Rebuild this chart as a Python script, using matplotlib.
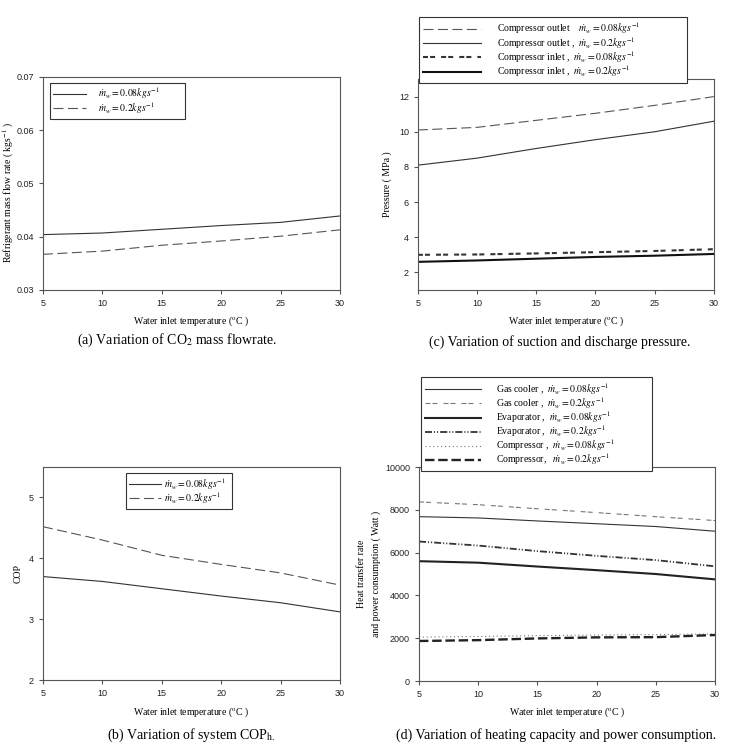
import matplotlib
matplotlib.use('Agg')
import matplotlib.pyplot as plt

plt.rcParams['mathtext.fontset'] = 'stix'
plt.rcParams['font.family'] = 'Liberation Serif'

# water inlet temperature (C)
temp = [5, 10, 15, 20, 25, 30]

# (a) refrigerant mass flow rate (kg/s)
flow_008 = [0.0404, 0.0407, 0.0414, 0.0421, 0.0427, 0.0439]
flow_02 = [0.0367, 0.0373, 0.0384, 0.0392, 0.0401, 0.0413]

# (c) pressure (MPa)
p_out_008 = [10.1, 10.25, 10.65, 11.05, 11.5, 12.0]
p_out_02 = [8.1, 8.5, 9.05, 9.55, 10.0, 10.6]
p_in_008 = [3.0, 3.02, 3.08, 3.15, 3.22, 3.32]
p_in_02 = [2.6, 2.68, 2.78, 2.88, 2.95, 3.05]

# (b) COP
cop_008 = [3.7, 3.62, 3.5, 3.38, 3.27, 3.12]
cop_02 = [4.52, 4.3, 4.05, 3.9, 3.76, 3.56]

# (d) heat transfer rate / power (W)
gc_008 = [7680, 7620, 7480, 7350, 7220, 7000]
gc_02 = [8370, 8240, 8050, 7870, 7680, 7500]
ev_008 = [5600, 5530, 5350, 5180, 5000, 4750]
ev_02 = [6520, 6330, 6070, 5850, 5650, 5360]
comp_008 = [2050, 2080, 2120, 2150, 2170, 2200]
comp_02 = [1870, 1910, 1990, 2040, 2050, 2150]

m008 = r'$\dot{m}_w = 0.08kgs^{-1}$'
m02 = r'$\dot{m}_w = 0.2kgs^{-1}$'
xlab = r'Water inlet temperature ($^{\rm o}$C )'

fig = plt.figure(figsize=(7.37, 7.54), dpi=100)

def style(ax, ylim, yticks):
    ax.set_xlim(5, 30)
    ax.set_xticks(temp)
    ax.set_ylim(*ylim)
    ax.set_yticks(yticks)
    for s in ax.spines.values():
        s.set_color('#555555')
        s.set_linewidth(0.8)
    ax.tick_params(colors='#555555', labelcolor='#222222', labelsize=6.5, length=3, width=0.8)
    for lab in ax.get_xticklabels() + ax.get_yticklabels():
        lab.set_family('Liberation Sans')
    ax.set_xlabel(xlab, fontsize=7, labelpad=5)

def legend(ax, x, top, w, **kw):
    lg = ax.legend(loc='upper left', bbox_to_anchor=(x, top, w, 0), mode='expand',
                   borderaxespad=0, fancybox=False, edgecolor='#333333', fontsize=7,
                   framealpha=1, labelspacing=-0.15, **kw)
    lg.get_frame().set_linewidth(0.8)
    return lg

# (a)
ax = fig.add_axes([0.0583, 0.6154, 0.403, 0.2825])
ax.plot(temp, flow_008, color='#333333', lw=0.8, label=m008)
ax.plot(temp, flow_02, color='#555555', lw=0.8, dashes=(9, 4), label=m02)
style(ax, (0.03, 0.07), [0.03, 0.04, 0.05, 0.06, 0.07])
ax.set_yticklabels(['0.03', '0.04', '0.05', '0.06', '0.07'])
ax.set_ylabel(r'Refrigerant mass flow rate ( kgs$^{-1}$ )', fontsize=7)
ax.yaxis.set_label_coords(-0.09, 0.46)
legend(ax, 0.024, 0.972, 0.455, handlelength=3.4, handletextpad=1.2, borderpad=0.3)
fig.text(0.24, 0.548, r'(a) Variation of CO$_2$ mass flowrate.', ha='center', va='center', fontsize=10)

# (c)
ax = fig.add_axes([0.567, 0.6154, 0.4016, 0.2798])
ax.plot(temp, p_out_008, color='#555555', lw=0.8, dashes=(9, 4),
        label='Compressor outlet    ' + m008)
ax.plot(temp, p_out_02, color='#333333', lw=0.8, label='Compressor outlet ,  ' + m02)
ax.plot(temp, p_in_008, color='#333333', lw=1.5, dashes=(2.4, 1, 2.4, 2.9),
        label='Compressor inlet ,  ' + m008)
ax.plot(temp, p_in_02, color='#111111', lw=1.5, label='Compressor inlet ,  ' + m02)
style(ax, (1, 13), [2, 4, 6, 8, 10, 12])
ax.set_ylabel('Pressure ( MPa )', fontsize=7)
ax.yaxis.set_label_coords(-0.088, 0.5)
legend(ax, 0.003, 1.294, 0.905, handlelength=6, handletextpad=1.6, borderpad=0.4)
fig.text(0.76, 0.546, '(c) Variation of suction and discharge pressure.', ha='center', va='center', fontsize=10)

# (b)
ax = fig.add_axes([0.0583, 0.0981, 0.403, 0.2825])
ax.plot(temp, cop_008, color='#333333', lw=0.8, label=m008)
ax.plot(temp, cop_02, color='#555555', lw=0.8, dashes=(9, 4), label=m02)
style(ax, (2, 5.5), [2, 3, 4, 5])
ax.set_ylabel('COP', fontsize=7)
ax.yaxis.set_label_coords(-0.067, 0.5)
legend(ax, 0.279, 0.972, 0.357, handlelength=3.3, handletextpad=0.3, borderpad=0.3)
fig.text(0.26, 0.025, r'(b) Variation of system COP$_{\rm h.}$', ha='center', va='center', fontsize=10)

# (d)
ax = fig.add_axes([0.5685, 0.0968, 0.4016, 0.2838])
ax.plot(temp, gc_008, color='#333333', lw=0.8, label='Gas cooler ,  ' + m008)
ax.plot(temp, gc_02, color='#777777', lw=0.8, dashes=(4.5, 1.8, 4.5, 5.4),
        label='Gas cooler ,  ' + m02)
ax.plot(temp, ev_008, color='#222222', lw=1.5, label='Evaporator ,  ' + m008)
ax.plot(temp, ev_02, color='#333333', lw=1.3, dashes=(3.9, 1.1, 0.6, 1.1, 0.6, 1.1),
        label='Evaporator ,  ' + m02)
ax.plot(temp, comp_008, color='#777777', lw=0.8, dashes=(1, 2.5),
        label='Compressor ,  ' + m008)
ax.plot(temp, comp_02, color='#222222', lw=1.7, dashes=(4, 1.6),
        label='Compressor,   ' + m02)
style(ax, (0, 10000), [0, 2000, 4000, 6000, 8000, 10000])
ax.set_ylabel('Heat transfer rate\nand power consumption ( Watt )', fontsize=7,
              linespacing=1.7)
ax.yaxis.set_label_coords(-0.13, 0.5)
legend(ax, 0.007, 1.42, 0.78, handlelength=5.8, handletextpad=1.5, borderpad=0.4)
fig.text(0.755, 0.025, '(d) Variation of heating capacity and power consumption.', ha='center', va='center', fontsize=10)

fig.savefig('out.png', dpi=100)
